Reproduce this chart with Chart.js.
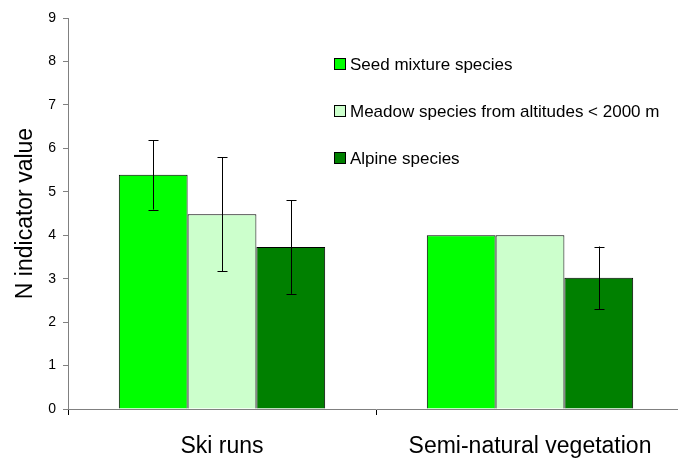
<!DOCTYPE html>
<html>
<head>
<meta charset="utf-8">
<script src="https://cdn.jsdelivr.net/npm/chart.js"></script>
<style>
  html, body { margin: 0; padding: 0; background: #fff; overflow: hidden; }
  #wrap { width: 690px; height: 458px; }
</style>
</head>
<body>
<div id="wrap"><canvas id="chart" width="690" height="458"></canvas></div>
<script>
var categories = ["Ski runs", "Semi-natural vegetation"]
var seriesNames = ["Seed mixture species", "Meadow species from altitudes < 2000 m", "Alpine species"]
var seedValues = [5.39, 4.0]
var meadowValues = [4.48, 4.0]
var alpineValues = [3.73, 3.02]
var seedErrors = [0.8, null]
var meadowErrors = [1.31, null]
var alpineErrors = [1.08, 0.72]
var colors = ["#00ff00", "#ccffcc", "#008000"]

var fontFamily = "'Liberation Sans', Arial, sans-serif"
var axisGray = "#808080"

// error bars drawn from the errors arrays through the y scale
var errorBars = {
      id: 'errorBars',
      afterDatasetsDraw: function(chart) {
            var ctx = chart.ctx
            var y = chart.scales.y
            chart.data.datasets.forEach(function(ds, i) {
                  var meta = chart.getDatasetMeta(i)
                  meta.data.forEach(function(bar, j) {
                        var err = ds.errors[j]
                        if (err == null) return
                        var v = ds.data[j]
                        var top = y.getPixelForValue(v + err)
                        var bot = y.getPixelForValue(v - err)
                        var x = Math.round(bar.x) + 0.5
                        ctx.save()
                        ctx.strokeStyle = '#000'
                        ctx.lineWidth = 1
                        ctx.beginPath()
                        ctx.moveTo(x, top)
                        ctx.lineTo(x, bot)
                        ctx.moveTo(x - 5, Math.round(top) + 0.5)
                        ctx.lineTo(x + 5, Math.round(top) + 0.5)
                        ctx.moveTo(x - 5, Math.round(bot) + 0.5)
                        ctx.lineTo(x + 5, Math.round(bot) + 0.5)
                        ctx.stroke()
                        ctx.restore()
                  })
            })
      }
}

// vertical legend inside the plot area
var innerLegend = {
      id: 'innerLegend',
      afterDraw: function(chart) {
            var ctx = chart.ctx
            var rows = [64, 111, 158]
            ctx.save()
            ctx.font = "17px " + fontFamily
            ctx.textBaseline = 'middle'
            chart.data.datasets.forEach(function(ds, i) {
                  var cy = rows[i]
                  ctx.fillStyle = ds.backgroundColor
                  ctx.fillRect(334.5, cy - 5.5, 11, 11)
                  ctx.strokeStyle = '#000'
                  ctx.lineWidth = 1
                  ctx.strokeRect(334.5, cy - 5.5, 11, 11)
                  ctx.fillStyle = '#000'
                  ctx.fillText(ds.label, 350, cy + 1)
            })
            ctx.restore()
      }
}

var ctx = document.getElementById('chart').getContext('2d')
var chart = new Chart(ctx, {
      type: 'bar',
      data: {
            labels: categories,
            datasets: [{
                  label: seriesNames[0],
                  data: seedValues,
                  errors: seedErrors,
                  backgroundColor: colors[0],
                  borderColor: '#000',
                  borderWidth: 1
            }, {
                  label: seriesNames[1],
                  data: meadowValues,
                  errors: meadowErrors,
                  backgroundColor: colors[1],
                  borderColor: '#000',
                  borderWidth: 1
            }, {
                  label: seriesNames[2],
                  data: alpineValues,
                  errors: alpineErrors,
                  backgroundColor: colors[2],
                  borderColor: '#000',
                  borderWidth: 1
            }]
      },
      options: {
            responsive: false,
            animation: false,
            layout: { padding: { top: 18, right: 6, bottom: 0, left: 0 } },
            datasets: { bar: { categoryPercentage: 0.67, barPercentage: 1 } },
            plugins: {
                  legend: { display: false },
                  tooltip: { enabled: false }
            },
            scales: {
                  x: {
                        grid: { offset: true, drawOnChartArea: false, color: '#000', tickLength: 6 },
                        border: { color: axisGray },
                        ticks: { color: '#000', padding: 18, font: { family: fontFamily, size: 23 } },
                        afterFit: function(scale) { scale.height = 49 }
                  },
                  y: {
                        min: 0,
                        max: 9,
                        ticks: { stepSize: 1, color: '#000', padding: 7, font: { family: fontFamily, size: 14 } },
                        grid: { drawOnChartArea: false, color: axisGray, tickLength: 5 },
                        border: { color: axisGray },
                        title: {
                              display: true,
                              text: 'N indicator value',
                              color: '#000',
                              padding: { top: 12, bottom: 0 },
                              font: { family: fontFamily, size: 23 }
                        },
                        afterFit: function(scale) { scale.width = 68 }
                  }
            }
      },
      plugins: [errorBars, innerLegend]
})
</script>
</body>
</html>
